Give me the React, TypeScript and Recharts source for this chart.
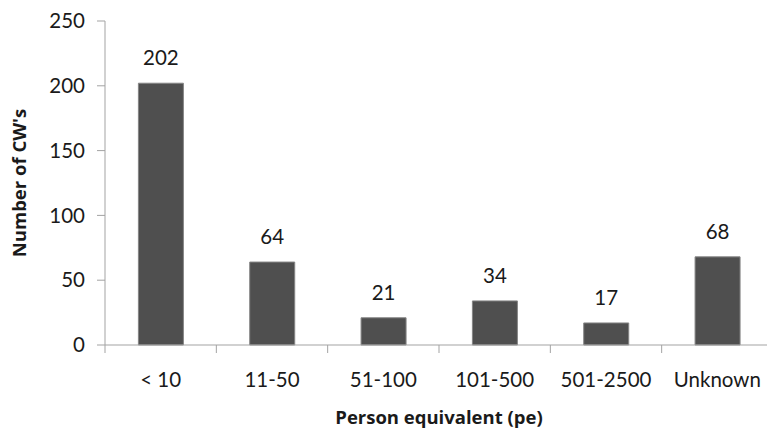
import React from 'react';
import { BarChart, Bar, XAxis, YAxis, LabelList, Label } from 'recharts';

const categories = ['< 10', '11-50', '51-100', '101-500', '501-2500', 'Unknown'];
const counts = [202, 64, 21, 34, 17, 68];
const yTicks = [0, 50, 100, 150, 200, 250];

const chartData = categories.map((name, i) => ({ name, count: counts[i] }));

const CHART_W = 780;
const Y_AXIS_W = 105;
const RIGHT = 7;
const STEP = (CHART_W - Y_AXIS_W - RIGHT) / categories.length;
const AXIS = '#a3a3a3';
const TEXT = '#1a1a1a';
const FONT = 'Lato, "Open Sans", sans-serif';
const TITLE_FONT = '"Open Sans", Lato, sans-serif';

// tick marks sit at category boundaries, not under the bars
const XTick = (props: any) => {
  const { x, y, payload } = props;
  return (
    <g>
      <line x1={x - STEP / 2} x2={x - STEP / 2} y1={y} y2={y + 8} stroke={AXIS} />
      <text x={x} y={y + 42} textAnchor="middle" fill={TEXT} fontSize={20.5} fontFamily={FONT}>
        {payload.value}
      </text>
    </g>
  );
};

const App: React.FC = () => {
  return (
    <div style={{ position: 'fixed', left: 0, top: 0, width: 767, height: 431, overflow: 'hidden', background: '#fff' }}>
      <BarChart
        width={CHART_W}
        height={431}
        data={chartData}
        margin={{ top: 21, right: RIGHT, left: 0, bottom: 0 }}
        barCategoryGap="30%"
        style={{ fontFamily: FONT }}
      >
        <XAxis
          dataKey="name"
          height={86}
          stroke={AXIS}
          tickLine={false}
          tickSize={0}
          tickMargin={0}
          tick={<XTick />}
          interval={0}
        >
          <Label
            value="Person equivalent (pe)"
            position="insideBottom"
            offset={7}
            fill={TEXT}
            fontSize={18.5}
            fontWeight="bold"
            fontFamily={TITLE_FONT}
            style={{ fontFamily: TITLE_FONT }}
          />
        </XAxis>
        <YAxis
          width={Y_AXIS_W}
          domain={[0, 250]}
          ticks={yTicks}
          stroke={AXIS}
          tickSize={8}
          tickMargin={12}
          tick={{ fill: TEXT, fontSize: 20.5 }}
        >
          <Label
            value="Number of CW's"
            angle={-90}
            position="insideLeft"
            offset={19}
            fill={TEXT}
            fontSize={18.5}
            fontWeight="bold"
            fontFamily={TITLE_FONT}
            style={{ textAnchor: 'middle', fontFamily: TITLE_FONT }}
          />
        </YAxis>
        <Bar dataKey="count" fill="#4f4f4f" stroke="#858585" strokeWidth={1} isAnimationActive={false}>
          <LabelList dataKey="count" position="top" offset={18} fill={TEXT} fontSize={20.5} />
        </Bar>
      </BarChart>
    </div>
  );
};

export default App;
